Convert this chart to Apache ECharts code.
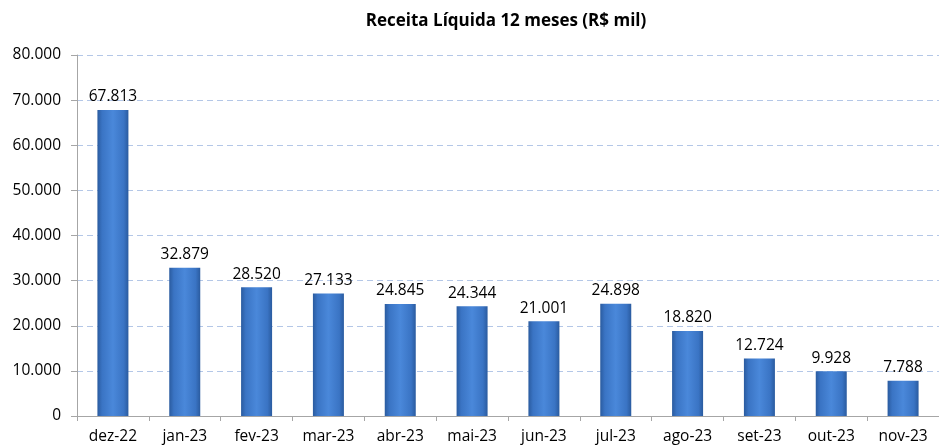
<!DOCTYPE html>
<html>
<head>
<meta charset="utf-8">
<script src="https://cdn.jsdelivr.net/npm/echarts@6/dist/echarts.min.js"></script>
<style>
html,body{margin:0;padding:0;background:#fff;}
#main{width:939px;height:445px;}
</style>
</head>
<body>
<div id="main"></div>
<script>
var categorias=['dez-22','jan-23','fev-23','mar-23','abr-23','mai-23','jun-23','jul-23','ago-23','set-23','out-23','nov-23'];
var receita=[67813,32879,28520,27133,24845,24344,21001,24898,18820,12724,9928,7788];

function fmt(v){
	return String(v).replace(/\B(?=(\d{3})+(?!\d))/g,'.');
}

var myChart=echarts.init(document.getElementById('main'));
var fonte='"Open Sans","Noto Sans",sans-serif';
var option={
	animation:false,
	title:{
		text:'Receita Líquida 12 meses (R$ mil)',
		left:501,
		textAlign:'center',
		top:8,
		textStyle:{fontSize:17,fontWeight:'bold',color:'#000',fontFamily:fonte}
	},
	grid:{left:77,right:-10,top:55,bottom:29,containLabel:false},
	xAxis:{
		type:'category',
		data:categorias,
		axisLine:{lineStyle:{color:'#a6a6a6'}},
		axisTick:{show:true,length:5,lineStyle:{color:'#a6a6a6'}},
		axisLabel:{color:'#000',fontSize:15.5,fontFamily:fonte,margin:13}
	},
	yAxis:{
		type:'value',
		min:0,max:80000,interval:10000,
		axisLine:{show:true,lineStyle:{color:'#a6a6a6'}},
		axisTick:{show:true,length:6,lineStyle:{color:'#a6a6a6'}},
		axisLabel:{color:'#000',fontSize:15.5,fontFamily:fonte,margin:16,formatter:function(v){return fmt(v);}},
		splitLine:{show:true,lineStyle:{color:'#b4c7e7',type:[6,4]}}
	},
	series:[{
		type:'bar',
		data:receita,
		barWidth:31,
		itemStyle:{
			color:new echarts.graphic.LinearGradient(0,0,1,0,[
				{offset:0,color:'#2a5b9f'},
				{offset:0.15,color:'#3a74c4'},
				{offset:0.5,color:'#4a88da'},
				{offset:0.85,color:'#3a74c4'},
				{offset:1,color:'#2a5b9f'}
			])
		},
		label:{
			show:true,position:'top',distance:5,
			color:'#000',fontSize:15.5,fontFamily:fonte,
			formatter:function(p){return fmt(p.value);}
		}
	}]
};
myChart.setOption(option);
</script>
</body>
</html>
